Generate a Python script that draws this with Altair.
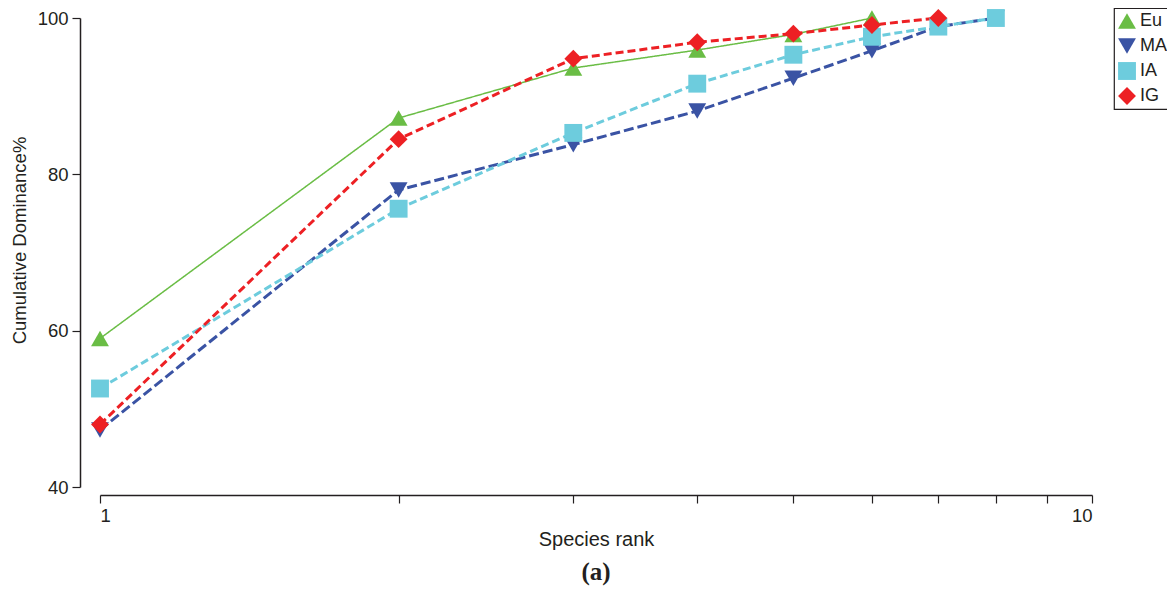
import altair as alt
import pandas as pd

series_names = ["Eu", "MA", "IA", "IG"]
colors = ["#6ABD45", "#3A53A4", "#6DCCDD", "#ED2024"]
shapes = ["triangle-up", "triangle-down", "square", "diamond"]
marker_sizes = [320, 320, 180, 250]
dashes = [[1, 0], [10, 4], [8, 4], [8, 4]]
widths = [1.5, 3, 3, 3]

ranks_eu = [1, 2, 3, 4, 5, 6]
eu = [59.0, 87.2, 93.6, 95.9, 97.9, 100.0]
ranks_ma = [1, 2, 3, 4, 5, 6, 7, 8]
ma = [47.3, 78.0, 83.8, 88.1, 92.3, 95.8, 98.9, 100.0]
ranks_ia = [1, 2, 3, 4, 5, 6, 7, 8]
ia = [52.6, 75.6, 85.3, 91.6, 95.3, 97.6, 98.9, 100.0]
ranks_ig = [1, 2, 3, 4, 5, 6, 7]
ig = [48.0, 84.5, 94.8, 96.9, 98.0, 99.1, 100.0]

rows = []
for name, rk, vals in [("Eu", ranks_eu, eu), ("MA", ranks_ma, ma),
                       ("IA", ranks_ia, ia), ("IG", ranks_ig, ig)]:
    for r, v in zip(rk, vals):
        rows.append({"series": name, "rank": r, "value": v})
df = pd.DataFrame(rows)

FONT = "Liberation Sans"
INK = "#231F20"

x_enc = alt.X("rank:Q",
              scale=alt.Scale(type="log", domain=[1, 10], nice=False),
              axis=alt.Axis(title="Species rank", values=list(range(1, 11)),
                            labelExpr="datum.value == 1 || datum.value == 10 ? datum.label : ''",
                            format="d", grid=False, offset=8, tickSize=8,
                            labelPadding=3, titlePadding=5, titleFontSize=20))
y_enc = alt.Y("value:Q",
              scale=alt.Scale(domain=[40, 100], nice=False, zero=False),
              axis=alt.Axis(title="Cumulative Dominance%", values=[40, 60, 80, 100],
                            grid=False, offset=20, tickSize=8, labelPadding=4,
                            titlePadding=8, titleFontSize=18.5, titleY=222))

line_layers = []
for name, c, d, w in zip(series_names, colors, dashes, widths):
    line_layers.append(
        alt.Chart(df).transform_filter(alt.datum.series == name)
        .mark_line(color=c, strokeDash=d, strokeWidth=w)
        .encode(x=x_enc, y=y_enc)
    )

points = alt.Chart(df).mark_point(filled=True, opacity=1).encode(
    x=x_enc, y=y_enc,
    fill=alt.Fill("series:N", scale=alt.Scale(domain=series_names, range=colors), title=None),
    shape=alt.Shape("series:N", scale=alt.Scale(domain=series_names, range=shapes), title=None),
    size=alt.Size("series:N", scale=alt.Scale(domain=series_names, range=marker_sizes), title=None),
)

chart = alt.layer(*line_layers, points).properties(
    width=992, height=469,
    autosize=alt.AutoSizeParams(type="none"),
    padding={"left": 92, "top": 10, "right": 75, "bottom": 100},
    title=alt.TitleParams("(a)", orient="bottom", font="Liberation Serif",
                          fontWeight="bold", fontSize=25, color=INK, offset=10),
).configure_view(stroke=None).configure_axis(
    labelFont=FONT, titleFont=FONT, labelFontSize=18.5,
    titleFontWeight="normal", labelColor=INK, titleColor=INK,
    domainColor=INK, tickColor=INK, domainWidth=1.5, tickWidth=1.2,
).configure_legend(
    orient="none", legendX=1014, legendY=-10, strokeColor=INK, strokeWidth=1.2,
    padding=4, labelFontSize=18, rowPadding=7, labelFont=FONT,
    labelColor=INK, symbolStrokeWidth=0, labelOffset=4,
)

chart.save("out.html", embed_options={"renderer": "svg", "actions": False})
